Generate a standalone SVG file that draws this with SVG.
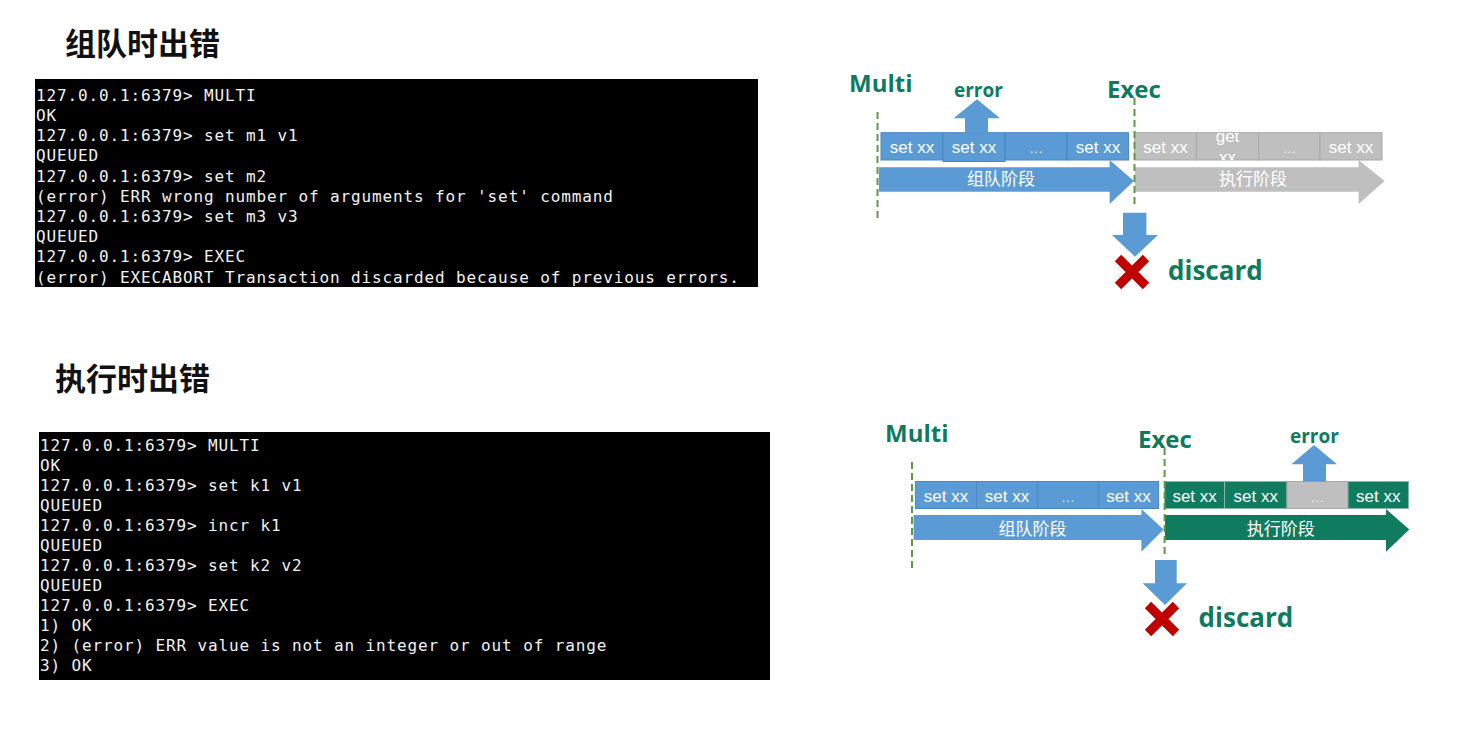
<svg xmlns="http://www.w3.org/2000/svg" width="1472" height="742" viewBox="0 0 1472 742">
<defs>
<style>
.title{font-family:"Noto Sans CJK SC","Noto Sans",sans-serif;font-weight:700;font-size:31px;fill:#111}
.term{fill:#000}
.tt{font-family:"DejaVu Sans Mono",monospace;font-size:16px;letter-spacing:0.87px;fill:#F2F2F2}
.grn{font-family:"Open Sans","Liberation Sans",sans-serif;font-weight:700;fill:#0E7B5F}
.big{font-size:24px}
.err{font-size:19px}
.dis{font-size:26px}
.blue{fill:#5B9BD5}
.bbox{fill:#5B9BD5;stroke:#4A86C0;stroke-width:1}
.gbox{fill:#BFBFBF;stroke:#A8A8A8;stroke-width:1}
.tbox{fill:#0F7B5F;stroke:#8FB3A8;stroke-width:1}
.gray{fill:#BFBFBF}
.teal{fill:#0F7B5F}
.bt{font-family:"Liberation Sans",Arial,sans-serif;font-size:17px;fill:#FFFFFF;text-anchor:middle}
.dots{font-family:"Liberation Sans",Arial,sans-serif;font-size:14px;fill:#E6EEF6;text-anchor:middle}
.lbl{font-family:"Noto Sans CJK SC","Noto Sans",sans-serif;font-size:17px;fill:#FFFFFF;text-anchor:middle}
.dash{stroke:#5E9A45;stroke-width:2;stroke-dasharray:7,4;fill:none}
.x{stroke:#C00000;stroke-width:9;fill:none}
</style>
<clipPath id="cg2"><rect x="1196.4" y="132.7" width="62.2" height="27.6"/></clipPath>
</defs>

<g id="title1"><text class="title" x="65" y="55">组队时出错</text></g>
<g id="title2"><text class="title" x="55" y="390">执行时出错</text></g>

<g id="terminal1">
<rect class="term" x="35" y="79" width="723" height="208"/>
<text class="tt" x="36" y="100.7">127.0.0.1:6379&gt; MULTI</text>
<text class="tt" x="36" y="120.9">OK</text>
<text class="tt" x="36" y="141.1">127.0.0.1:6379&gt; set m1 v1</text>
<text class="tt" x="36" y="161.3">QUEUED</text>
<text class="tt" x="36" y="181.5">127.0.0.1:6379&gt; set m2</text>
<text class="tt" x="36" y="201.7">(error) ERR wrong number of arguments for 'set' command</text>
<text class="tt" x="36" y="221.9">127.0.0.1:6379&gt; set m3 v3</text>
<text class="tt" x="36" y="242.1">QUEUED</text>
<text class="tt" x="36" y="262.3">127.0.0.1:6379&gt; EXEC</text>
<text class="tt" x="36" y="282.5">(error) EXECABORT Transaction discarded because of previous errors.</text>
</g>

<g id="terminal2">
<rect class="term" x="39" y="432" width="731" height="248"/>
<text class="tt" x="40" y="451">127.0.0.1:6379&gt; MULTI</text>
<text class="tt" x="40" y="471">OK</text>
<text class="tt" x="40" y="491">127.0.0.1:6379&gt; set k1 v1</text>
<text class="tt" x="40" y="511">QUEUED</text>
<text class="tt" x="40" y="531">127.0.0.1:6379&gt; incr k1</text>
<text class="tt" x="40" y="551">QUEUED</text>
<text class="tt" x="40" y="571">127.0.0.1:6379&gt; set k2 v2</text>
<text class="tt" x="40" y="591">QUEUED</text>
<text class="tt" x="40" y="611">127.0.0.1:6379&gt; EXEC</text>
<text class="tt" x="40" y="631">1) OK</text>
<text class="tt" x="40" y="651">2) (error) ERR value is not an integer or out of range</text>
<text class="tt" x="40" y="671">3) OK</text>
</g>

<!-- Diagram 1 -->
<g id="d1-labels">
<text class="grn big" x="849" y="91.7">Multi</text>
<text class="grn big" x="1107" y="98.3">Exec</text>
<text class="grn err" x="954" y="97.3">error</text>
</g>
<g id="d1-queue-boxes">
<rect class="bbox" x="881" y="132.7" width="62" height="27.3"/>
<text class="bt" x="912" y="152.7">set xx</text>
<rect class="bbox" x="943" y="132.7" width="62" height="28.8"/>
<text class="bt" x="974" y="153.2">set xx</text>
<rect class="bbox" x="1005" y="132.7" width="62" height="27.3"/>
<text class="dots" x="1036" y="152.7">…</text>
<rect class="bbox" x="1067" y="132.7" width="61.6" height="27.3"/>
<text class="bt" x="1098" y="152.7">set xx</text>
</g>
<g id="d1-exec-boxes">
<rect class="gbox" x="1134.6" y="132.7" width="61.8" height="27.3"/>
<text class="bt" x="1165.5" y="152.7">set xx</text>
<rect class="gbox" x="1196.4" y="132.7" width="62.2" height="27.3"/>
<g clip-path="url(#cg2)">
<text class="bt" x="1227.5" y="142">get</text>
<text class="bt" x="1227.5" y="162.5">xx</text>
</g>
<rect class="gbox" x="1258.6" y="132.7" width="61.4" height="27.3"/>
<text class="dots" x="1289.3" y="152.7">…</text>
<rect class="gbox" x="1320" y="132.7" width="62" height="27.3"/>
<text class="bt" x="1351" y="152.7">set xx</text>
</g>
<g id="d1-queue-phase">
<polygon class="blue" points="879,167.3 1109.6,167.3 1109.6,160 1134,181 1109.6,204 1109.6,191.7 879,191.7"/>
<text class="lbl" x="1001" y="184.5">组队阶段</text>
</g>
<g id="d1-exec-phase">
<polygon class="gray" points="1135,167.3 1358.6,167.3 1358.6,160 1384.6,181 1358.6,204 1358.6,191.7 1135,191.7"/>
<text class="lbl" x="1253" y="184.5">执行阶段</text>
</g>
<g id="d1-discard">
<path class="x" d="M1118,258 L1146,286 M1146,258 L1118,286"/>
<text class="grn dis" x="1168" y="280">discard</text>
</g>
<g id="d1-connectors">
<polygon class="blue" points="965,132.7 965,118.3 953.6,118.3 977,99.3 1000,118.3 988,118.3 988,132.7"/>
<polygon class="blue" points="1123,212.7 1146.4,212.7 1146.4,235 1158,235 1135,256.7 1112,235 1123,235"/>
<line class="dash" x1="877.5" y1="112" x2="877.5" y2="222"/>
<line class="dash" x1="1134.5" y1="98" x2="1134.5" y2="208"/>
</g>

<!-- Diagram 2 -->
<g id="d2-labels">
<text class="grn big" x="885" y="441.7">Multi</text>
<text class="grn big" x="1138" y="448">Exec</text>
<text class="grn err" x="1290" y="443.3">error</text>
</g>
<g id="d2-queue-boxes">
<rect class="bbox" x="915.4" y="481.5" width="61.1" height="27"/>
<text class="bt" x="946" y="501.5">set xx</text>
<rect class="bbox" x="976.5" y="481.5" width="61" height="27"/>
<text class="bt" x="1007" y="501.5">set xx</text>
<rect class="bbox" x="1037.5" y="481.5" width="61" height="27"/>
<text class="dots" x="1068" y="501.5">…</text>
<rect class="bbox" x="1098.5" y="481.5" width="60.1" height="27"/>
<text class="bt" x="1128.5" y="501.5">set xx</text>
</g>
<g id="d2-exec-boxes">
<rect class="tbox" x="1164.6" y="481.5" width="60" height="27"/>
<text class="bt" x="1194.6" y="501.5">set xx</text>
<rect class="tbox" x="1224.6" y="481.5" width="62.4" height="27"/>
<text class="bt" x="1255.8" y="501.5">set xx</text>
<rect class="gbox" x="1287" y="481.5" width="61" height="27"/>
<text class="dots" x="1317.5" y="501.5">…</text>
<rect class="tbox" x="1348" y="481.5" width="60.6" height="27"/>
<text class="bt" x="1378.3" y="501.5">set xx</text>
</g>
<g id="d2-queue-phase">
<polygon class="blue" points="913.6,515 1141.4,515 1141.4,509 1163.6,529.5 1141.4,551.7 1141.4,540 913.6,540"/>
<text class="lbl" x="1032.5" y="534.5">组队阶段</text>
</g>
<g id="d2-exec-phase">
<polygon class="teal" points="1165,515 1386,515 1386,509 1409.3,529.5 1386,551.7 1386,540 1165,540"/>
<text class="lbl" x="1280.7" y="534.5">执行阶段</text>
</g>
<g id="d2-discard">
<path class="x" d="M1148,605 L1176,633 M1176,605 L1148,633"/>
<text class="grn dis" x="1198.6" y="626.7">discard</text>
</g>
<g id="d2-connectors">
<polygon class="blue" points="1303,481.5 1303,464.3 1291.4,464.3 1314,445 1337,464.3 1326,464.3 1326,481.5"/>
<polygon class="blue" points="1155,560 1176.7,560 1176.7,583.3 1187,583.3 1165,605 1142.7,583.3 1155,583.3"/>
<line class="dash" x1="912" y1="462" x2="912" y2="569"/>
<line class="dash" x1="1164.6" y1="448" x2="1164.6" y2="557"/>
</g>
</svg>
